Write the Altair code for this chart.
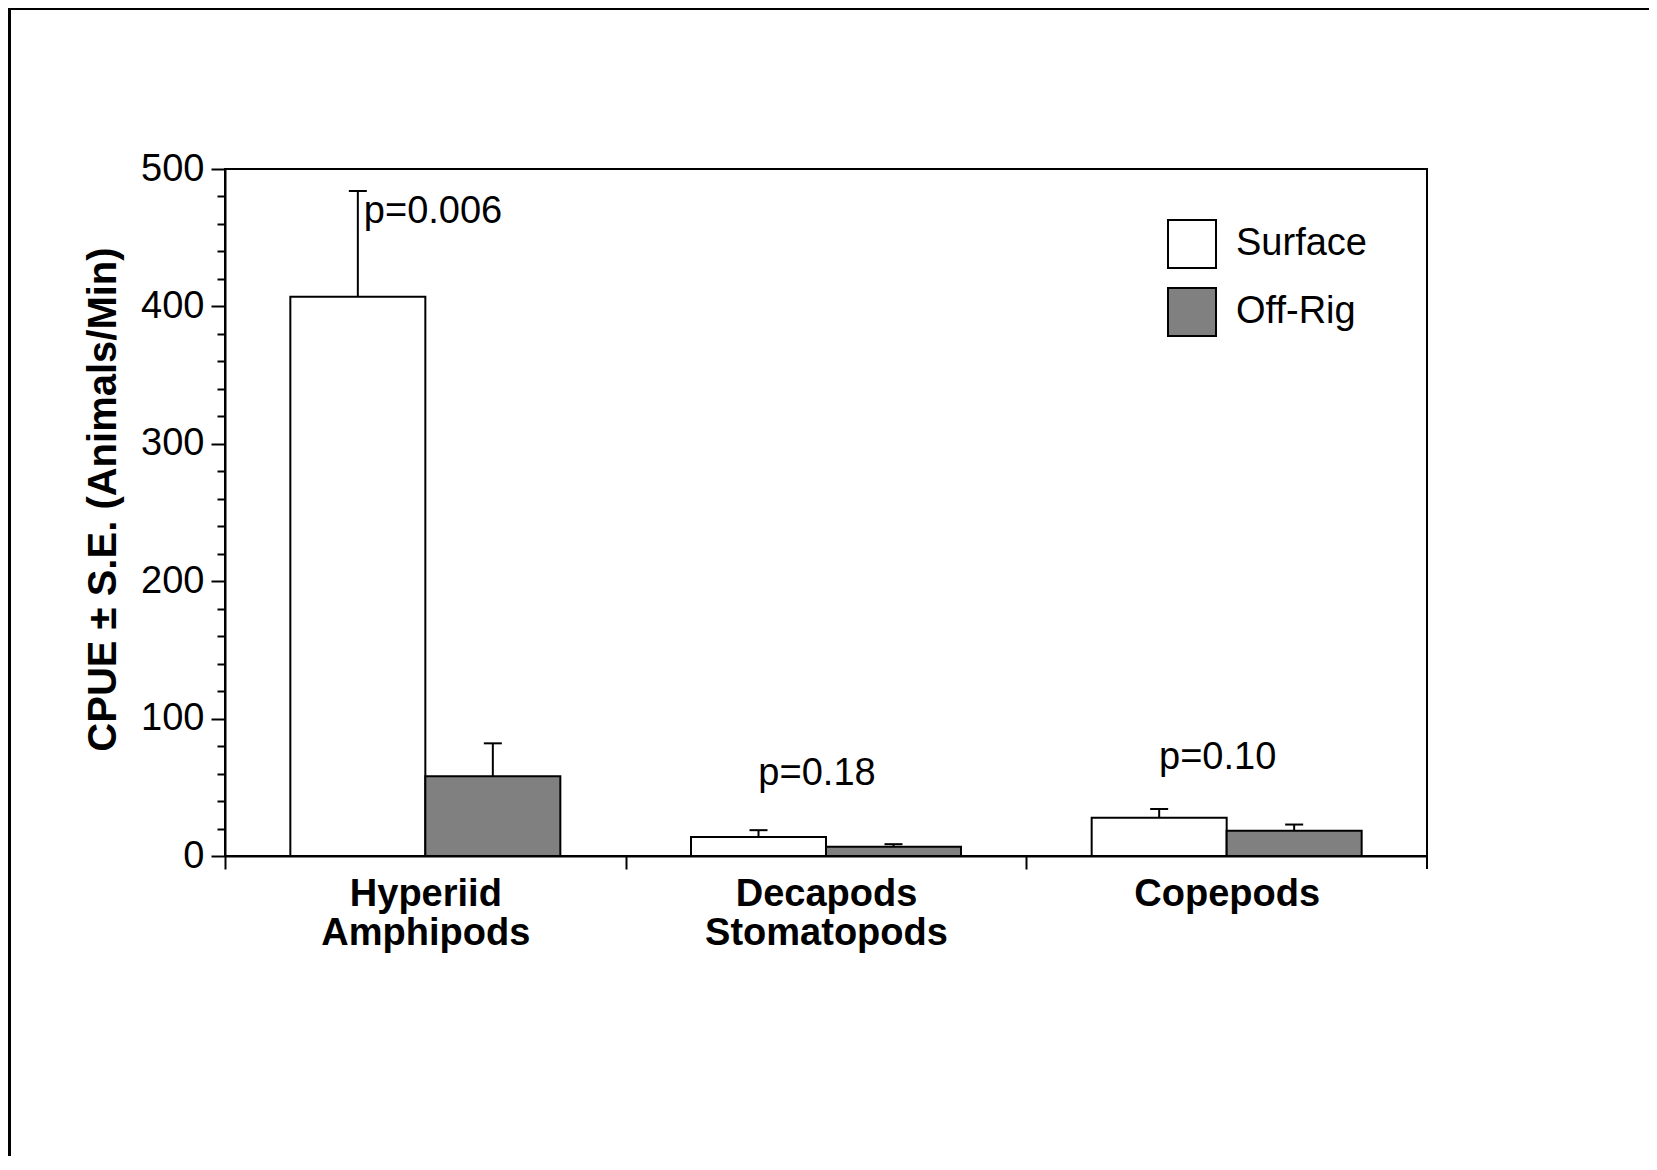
import altair as alt
import pandas as pd

# ---- data ----
categories = ["Hyperiid\nAmphipods", "Decapods\nStomatopods", "Copepods"]
series = ["Surface", "Off-Rig"]
surface_mean = [407, 13.8, 27.8]
surface_upper = [484, 18.8, 34.2]
offrig_mean = [58, 6.8, 18.3]
offrig_upper = [82, 8.6, 22.9]
p_labels = ["p=0.006", "p=0.18", "p=0.10"]
p_label_y = [469, 60, 71.5]

rows = []
for i, c in enumerate(categories):
    rows.append({"cat": c, "series": "Surface", "mean": surface_mean[i], "upper": surface_upper[i]})
    rows.append({"cat": c, "series": "Off-Rig", "mean": offrig_mean[i], "upper": offrig_upper[i]})
bars_df = pd.DataFrame(rows)
p_df = pd.DataFrame({"cat": categories, "label": p_labels, "y": p_label_y, "series": ["Surface"] * 3})
one = pd.DataFrame({"a": [0]})

W, H = 1202, 687
STEP = W / 3
FONT = "Liberation Sans"

x_enc = alt.X(
    "cat:N", sort=categories, title=None,
    scale=alt.Scale(paddingInner=0, paddingOuter=0),
    axis=alt.Axis(
        labelExpr="split(datum.label, '\\n')",
        labelFont=FONT, labelFontSize=38, labelFontWeight="bold", labelColor="black",
        labelLineHeight=39, labelAngle=0, labelPadding=6, labelBaseline="top",
        labelLimit=0, labelOverlap=False,
        tickSize=13, tickWidth=2, tickColor="black", tickOffset=-STEP / 2, labelOffset=STEP / 2,
        domainColor="black", domainWidth=2,
    ),
)
xoff_enc = alt.XOffset("series:N", sort=series, scale=alt.Scale(domain=series, paddingOuter=0.484, paddingInner=0))

MAJOR = "datum.value % 100 === 0"
y_scale = alt.Scale(domain=[0, 500], nice=False, zero=True)
y_axis = alt.Axis(
    values=list(range(0, 501, 20)),
    tickCount=40,
    labelExpr=MAJOR + " ? datum.label : ''",
    labelOverlap=False, labelFlush=False, labelBound=False,
    labelFontSize={"condition": {"test": "datum.value % 100 !== 0", "value": 0}, "value": 38},
    tickSize={"condition": {"test": MAJOR, "value": 14}, "value": 8},
    tickWidth=2, tickColor="black", domainColor="black", domainWidth=2,
    labelFont=FONT, labelColor="black", labelPadding=7,
    title="CPUE \u00b1 S.E. (Animals/Min)", titleFont=FONT, titleFontSize=40, titleFontWeight="bold",
    titleColor="black", titleX=-122, titleY=330, titleAlign="center", titleBaseline="middle", titleAngle=270,
    grid=False,
)

base = alt.Chart(bars_df).encode(x=x_enc, xOffset=xoff_enc)

bars = base.mark_bar(stroke="black", strokeWidth=2).encode(
    y=alt.Y("mean:Q", scale=y_scale, axis=y_axis),
    fill=alt.Fill(
        "series:N", sort=series,
        scale=alt.Scale(domain=series, range=["white", "#808080"]),
        legend=alt.Legend(
            title=None, orient="none", legendX=942, legendY=50, direction="vertical",
            symbolType="square", symbolSize=2304, symbolStrokeColor="black", symbolStrokeWidth=2,
            labelFont=FONT, labelFontSize=38, labelColor="black", labelOffset=19, rowPadding=12,
            labelLimit=400,
        ),
    ),
)

err = base.mark_rule(color="black", strokeWidth=2).encode(y="mean:Q", y2="upper:Q")
caps = base.mark_tick(color="black", thickness=2, size=18, opacity=1).encode(y="upper:Q")

p_first = alt.Chart(p_df).transform_filter(alt.datum.label == "p=0.006").mark_text(
    align="left", baseline="middle", dx=6, font=FONT, fontSize=38, color="black"
).encode(x=alt.X("cat:N", sort=categories), xOffset=alt.XOffset("series:N", sort=series), y="y:Q", text="label:N")

p_rest = alt.Chart(p_df).transform_filter(alt.datum.label != "p=0.006").mark_text(
    align="center", baseline="middle", dx=-9, font=FONT, fontSize=38, color="black"
).encode(x=alt.X("cat:N", sort=categories), y="y:Q", text="label:N")

# decorations: scanned page frame (left + top edges) and the last category tick
frame_left = alt.Chart(one).mark_rule(color="black", strokeWidth=3).encode(
    x=alt.value(-215.5), y=alt.value(-161), y2=alt.value(995))
frame_top = alt.Chart(one).mark_rule(color="black", strokeWidth=2).encode(
    x=alt.value(-217), x2=alt.value(1424), y=alt.value(-160))
end_tick = alt.Chart(one).mark_rule(color="black", strokeWidth=2).encode(
    x=alt.value(W), y=alt.value(H), y2=alt.value(H + 13))

chart = alt.layer(bars, err, caps, p_first, p_rest, frame_left, frame_top, end_tick).properties(
    width=W, height=H,
    autosize=alt.AutoSizeParams(type="none"),
    padding={"left": 217, "top": 161, "right": 222, "bottom": 300},
    background="white",
).configure_view(stroke="black", strokeWidth=2).configure_axisY(labelOverlap=False)

chart.save("out.html", embed_options={"renderer": "svg", "actions": False})
